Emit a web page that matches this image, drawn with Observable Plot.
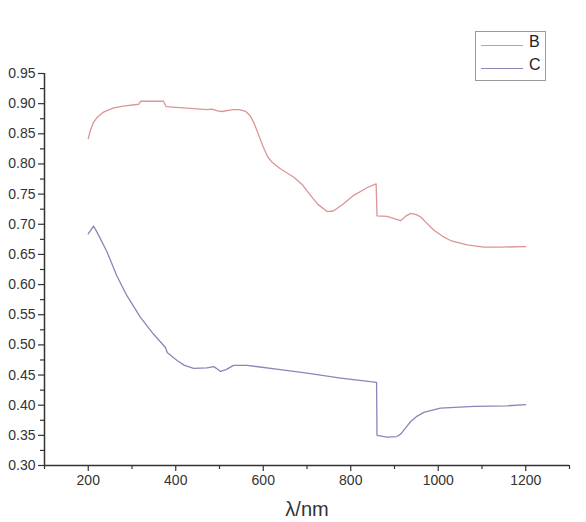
<!DOCTYPE html>
<html>
<head>
<meta charset="utf-8">
<script src="https://cdn.jsdelivr.net/npm/d3@7"></script>
<script src="https://cdn.jsdelivr.net/npm/@observablehq/plot@0.6"></script>
<style>
  html, body { margin: 0; padding: 0; background: #fff; }
  #wrap { position: relative; width: 586px; height: 522px; font-family: "Liberation Sans", Arial, sans-serif; }
  #legend { position: absolute; left: 475px; top: 31px; width: 69px; height: 48px; border: 1px solid #9a9a9a; background: #fff; }
  #legend .row { position: absolute; left: 0; height: 20px; font-size: 16px; color: #222; }
  #legend .sw { position: absolute; left: 5px; width: 42px; height: 0; }
  #legend .lb { position: absolute; left: 53px; top: -2px; }
</style>
</head>
<body>
<div id="wrap"></div>
<script>
const seriesNames = ["B", "C"];
const seriesColors = ["#dc9494", "#8d84b8"];

const bLambda = [200,205,212,220,235,258,280,315,320,372,378,471,483,495,506,520,533,545,560,570,580,590,600,610,620,639,670,690,708,725,746,760,780,807,838,858,860,883,914,925,937,950,960,975,990,1010,1028,1066,1104,1143,1200];
const bValue  = [0.842,0.856,0.869,0.877,0.886,0.893,0.896,0.899,0.904,0.904,0.895,0.890,0.891,0.888,0.887,0.889,0.890,0.890,0.887,0.880,0.866,0.847,0.828,0.812,0.803,0.792,0.778,0.765,0.748,0.733,0.721,0.722,0.732,0.748,0.761,0.767,0.714,0.713,0.706,0.713,0.718,0.716,0.712,0.701,0.690,0.680,0.673,0.666,0.662,0.662,0.663];

const cLambda = [200,212,220,243,265,288,319,349,376,381,403,420,441,471,487,495,502,515,532,563,639,700,777,845,859,860,883,905,914,925,937,950,967,1005,1082,1158,1200];
const cValue  = [0.684,0.697,0.687,0.654,0.615,0.582,0.546,0.518,0.496,0.487,0.474,0.466,0.461,0.462,0.464,0.460,0.456,0.459,0.466,0.466,0.459,0.453,0.445,0.439,0.438,0.350,0.347,0.348,0.352,0.362,0.373,0.381,0.388,0.395,0.398,0.399,0.401];

const xMajor = [200,400,600,800,1000,1200];
const xMinor = [100,300,500,700,900,1100,1300];
const yMajor = [0.30,0.35,0.40,0.45,0.50,0.55,0.60,0.65,0.70,0.75,0.80,0.85,0.90,0.95];
const yMinor = [0.325,0.375,0.425,0.475,0.525,0.575,0.625,0.675,0.725,0.775,0.825,0.875,0.925];
const xDomain = [100, 1300];
const yDomain = [0.30, 0.95];
const xLabel = "λ/nm";

const rowsB = bLambda.map((l, i) => ({l, v: bValue[i]}));
const rowsC = cLambda.map((l, i) => ({l, v: cValue[i]}));

const font = "Liberation Sans, Arial, sans-serif";
const chart = Plot.plot({
  width: 586,
  height: 522,
  marginLeft: 44,
  marginRight: 17,
  marginTop: 73,
  marginBottom: 57,
  style: {fontFamily: font, color: "#333", background: "#fff", overflow: "visible"},
  x: {domain: xDomain},
  y: {domain: yDomain},
  marks: [
    Plot.axisY(yMajor, {tickSize: 6, tickPadding: 3, tickFormat: d3.format(".2f"), fontSize: 14, label: null, stroke: "#333", strokeWidth: 1.2}),
    Plot.axisY(yMinor, {tickSize: 4, tickFormat: () => "", label: null, stroke: "#333", strokeWidth: 1.2}),
    Plot.axisX(xMajor, {tickSize: 6, tickPadding: 4, tickFormat: d => String(d), fontSize: 14, label: null, stroke: "#333", strokeWidth: 1.2}),
    Plot.axisX(xMinor, {tickSize: 4, tickFormat: () => "", label: xLabel, labelAnchor: "center", labelArrow: "none", labelOffset: 50, fontSize: 20, stroke: "#333", strokeWidth: 1.2}),
    Plot.ruleX([xDomain[0]], {stroke: "#333", strokeWidth: 1.5}),
    Plot.ruleY([yDomain[0]], {stroke: "#333", strokeWidth: 1.5}),
    Plot.line(rowsB, {x: "l", y: "v", stroke: seriesColors[0], strokeWidth: 1.3}),
    Plot.line(rowsC, {x: "l", y: "v", stroke: seriesColors[1], strokeWidth: 1.3})
  ]
});
const wrap = document.getElementById("wrap");
wrap.appendChild(chart);

const legend = document.createElement("div");
legend.id = "legend";
seriesNames.forEach((name, i) => {
  const row = document.createElement("div");
  row.className = "row";
  row.style.top = (3 + i * 23) + "px";
  row.style.width = "69px";
  const sw = document.createElement("div");
  sw.className = "sw";
  sw.style.top = "10px";
  sw.style.borderTop = "1.3px solid " + seriesColors[i];
  const lb = document.createElement("div");
  lb.className = "lb";
  lb.textContent = name;
  row.appendChild(sw);
  row.appendChild(lb);
  legend.appendChild(row);
});
wrap.appendChild(legend);
</script>
</body>
</html>
